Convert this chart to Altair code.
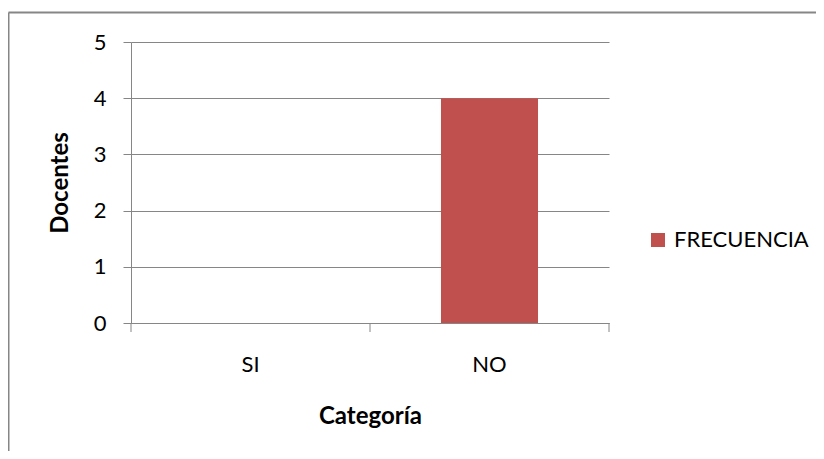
import altair as alt
import pandas as pd

# ---- data ----
categorias = ["SI", "NO"]
frecuencia = [0, 4]
serie = "FRECUENCIA"
y_ticks = [0, 1, 2, 3, 4, 5]
x_tick_pos = [0, 1, 2]  # category boundaries (Excel-style ticks)

GRAY = "#868686"
RED = "#C0504D"
FONT = "Lato"

W, H = 478, 281
PAD = {"left": 123, "top": 34, "right": 207, "bottom": 128}

df = pd.DataFrame({
    "Categoría": categorias,
    "Docentes": frecuencia,
    "Serie": [serie] * len(categorias),
})

bars = alt.Chart(df).mark_bar().encode(
    x=alt.X(
        "Categoría:N",
        sort=categorias,
        scale=alt.Scale(paddingInner=0.594, paddingOuter=0.297),
        axis=alt.Axis(
            title="Categoría",
            labelAngle=0,
            ticks=False,
            tickSize=0,
            labelPadding=31,
            labelFontSize=22,
            labelFont=FONT,
            labelColor="black",
            domainColor=GRAY,
            domainWidth=1,
            titleFont=FONT,
            titleFontSize=24,
            titleFontWeight="bold",
            titleColor="black",
            titlePadding=29,
            grid=False,
        ),
    ),
    y=alt.Y(
        "Docentes:Q",
        scale=alt.Scale(domain=[0, 5], nice=False),
        axis=alt.Axis(
            title="Docentes",
            values=y_ticks,
            tickSize=8,
            tickColor=GRAY,
            labelPadding=17,
            labelFontSize=22,
            labelFont=FONT,
            labelColor="black",
            domainColor=GRAY,
            domainWidth=1,
            grid=True,
            gridColor=GRAY,
            gridWidth=1,
            titleFont=FONT,
            titleFontSize=24,
            titleFontWeight="bold",
            titleColor="black",
            titlePadding=21,
        ),
    ),
    color=alt.Color(
        "Serie:N",
        scale=alt.Scale(range=[RED]),
        legend=alt.Legend(
            title=None,
            orient="none",
            legendX=516,
            legendY=187,
            symbolType="square",
            symbolSize=196,
            symbolStrokeWidth=0,
            labelFontSize=22,
            labelFont=FONT,
            labelColor="black",
            labelOffset=5,
            padding=0,
        ),
    ),
)

ticks = alt.Chart(pd.DataFrame({"pos": x_tick_pos})).mark_rule(
    color=GRAY, strokeWidth=1
).encode(
    x=alt.X("pos:Q", scale=alt.Scale(domain=[0, 2], nice=False, zero=False), axis=None),
    y=alt.value(H),
    y2=alt.value(H + 9),
)

frame_df = pd.DataFrame({"k": [0]})
frame_left = alt.Chart(frame_df).mark_rule(color=GRAY, strokeWidth=2).encode(
    x=alt.value(-122.5), y=alt.value(-29.5), y2=alt.value(H + PAD["bottom"])
)
frame_top = alt.Chart(frame_df).mark_rule(color=GRAY, strokeWidth=2).encode(
    x=alt.value(-122.5), x2=alt.value(W + PAD["right"]), y=alt.value(-29.5)
)

chart = alt.layer(bars, ticks, frame_left, frame_top).resolve_scale(
    x="independent"
).properties(
    width=W,
    height=H,
    padding=PAD,
    autosize=alt.AutoSizeParams(type="none"),
    background="white",
).configure_view(stroke=None)

chart.save("out.html", embed_options={"renderer": "svg", "actions": False})
